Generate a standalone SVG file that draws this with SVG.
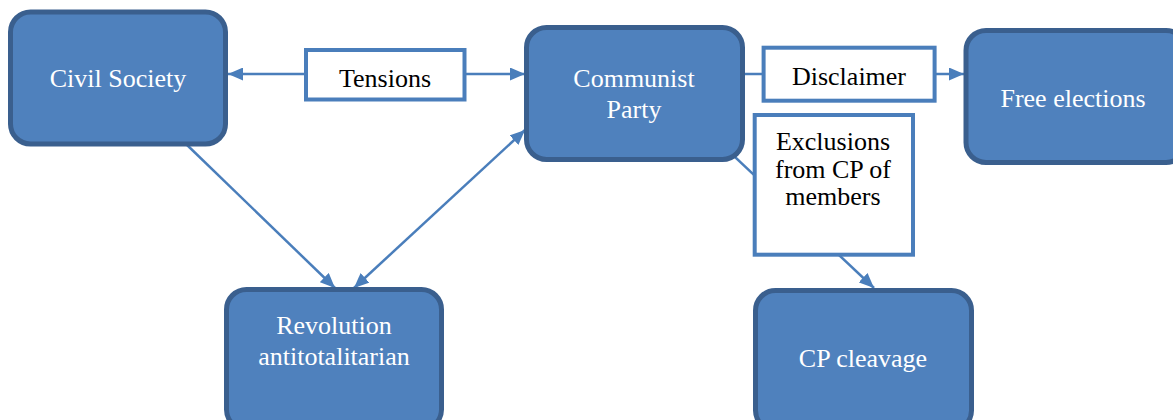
<svg xmlns="http://www.w3.org/2000/svg" width="1173" height="420" viewBox="0 0 1173 420">
  <style>
    .node rect { fill: #4f81bd; stroke: #3a5f8e; stroke-width: 5; }
    .node text { fill: #ffffff; font-family: 'Liberation Serif', 'DejaVu Serif', serif; font-size: 26px; text-anchor: middle; }
    .label rect { fill: #ffffff; stroke: #4a7ebb; stroke-width: 4; }
    .label text { fill: #000000; font-family: 'Liberation Serif', 'DejaVu Serif', serif; font-size: 26px; text-anchor: middle; }
    .conn { stroke: #4a7ebb; stroke-width: 2.5; fill: none; }
  </style>
  <defs>
    <marker id="arrow" viewBox="0 0 15 13" refX="15" refY="6.5" markerWidth="15" markerHeight="13" markerUnits="userSpaceOnUse" orient="auto-start-reverse">
      <path d="M0,0 L15,6.5 L0,13 z" fill="#4a7ebb"/>
    </marker>
  </defs>

  <rect width="1173" height="420" fill="#ffffff"/>

  <!-- connectors (drawn first so boxes sit on top) -->
  <g id="connectors">
    <line class="conn" x1="306" y1="74" x2="228" y2="74" marker-end="url(#arrow)"/>
    <line class="conn" x1="464" y1="74" x2="525" y2="74" marker-end="url(#arrow)"/>
    <line class="conn" x1="745" y1="74" x2="763" y2="74"/>
    <line class="conn" x1="935" y1="74" x2="964" y2="74" marker-end="url(#arrow)"/>
    <line class="conn" x1="185" y1="143" x2="335" y2="288" marker-end="url(#arrow)"/>
    <line class="conn" x1="354" y1="288" x2="525" y2="130" marker-start="url(#arrow)" marker-end="url(#arrow)"/>
    <line class="conn" x1="718" y1="141" x2="874" y2="288" marker-end="url(#arrow)"/>
  </g>

  <g id="civil-society" class="node">
    <rect x="10.5" y="12" width="215" height="132" rx="20"/>
    <text x="118" y="87">Civil Society</text>
  </g>

  <g id="communist-party" class="node">
    <rect x="526.5" y="27.5" width="216" height="132" rx="20"/>
    <text x="634" y="87">Communist</text>
    <text x="634" y="118">Party</text>
  </g>

  <g id="free-elections" class="node">
    <rect x="966" y="30.5" width="220" height="132" rx="20"/>
    <text x="1073" y="107">Free elections</text>
  </g>

  <g id="revolution" class="node">
    <rect x="226.5" y="289.5" width="215" height="140" rx="20"/>
    <text x="334" y="334">Revolution</text>
    <text x="334" y="365">antitotalitarian</text>
  </g>

  <g id="cp-cleavage" class="node">
    <rect x="755.5" y="290.5" width="216" height="140" rx="20"/>
    <text x="863" y="367">CP cleavage</text>
  </g>

  <g id="tensions" class="label">
    <rect x="306" y="50" width="158.5" height="49.5"/>
    <text x="385" y="87">Tensions</text>
  </g>

  <g id="disclaimer" class="label">
    <rect x="763.6" y="47.7" width="171" height="53"/>
    <text x="849" y="85">Disclaimer</text>
  </g>

  <g id="exclusions" class="label">
    <rect x="754.7" y="115" width="158.3" height="139.7"/>
    <text x="833" y="150" font-size="23">Exclusions</text>
    <text x="833" y="178" font-size="23">from CP of</text>
    <text x="833" y="205" font-size="23">members</text>
  </g>
</svg>
